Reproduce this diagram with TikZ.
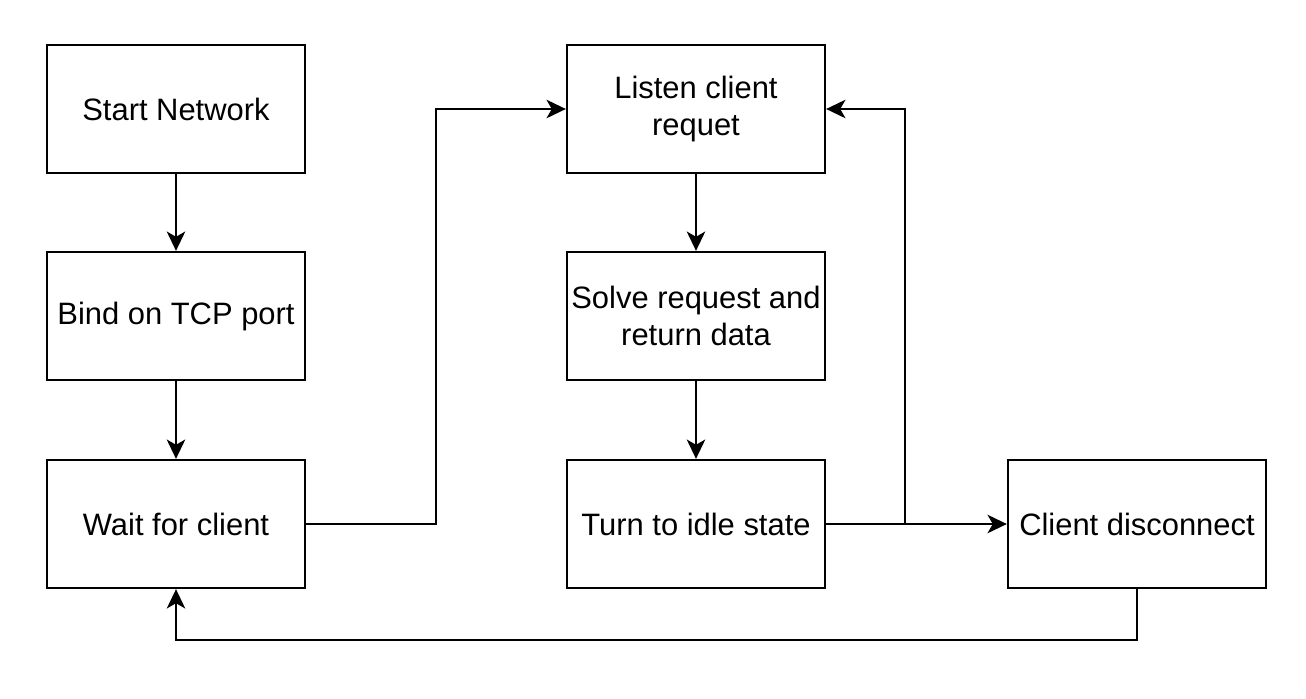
\documentclass[tikz,border=0pt]{standalone}
\usepackage{fontspec}
\setmainfont{Liberation Sans}
\usetikzlibrary{arrows.meta}
\begin{document}
\begin{tikzpicture}[x=0.02cm,y=-0.02cm,
  box/.style={draw=black,line width=1.3pt,fill=white,minimum width=258*0.02cm,minimum height=128*0.02cm,inner sep=0pt,align=center,font=\fontsize{17.6}{21.5}\selectfont},
  conn/.style={draw=black,line width=1.3pt,-{Stealth[length=11pt,width=10.5pt,inset=3pt]}}]
\path[fill=white] (0,0) rectangle (1306,698);
\node[box] (start) at (176,109) {Start Network};
\node[box] (bind) at (176,316) {Bind on TCP port};
\node[box] (wait) at (176,524) {Wait for client};
\node[box] (listen) at (696,109) {Listen client\\requet};
\node[box] (solve) at (696,316) {Solve request and\\return data};
\node[box] (idle) at (696,524) {Turn to idle state};
\node[box] (disc) at (1137,524) {Client disconnect};
\coordinate (j) at (905,524);
\draw[conn] (start) -- (bind);
\draw[conn] (bind) -- (wait);
\draw[conn] (wait.east) -- (436,524) -- (436,109) -- (listen.west);
\draw[conn] (listen) -- (solve);
\draw[conn] (solve) -- (idle);
\draw[conn] (idle.east) -- (disc.west);
\draw[conn] (j) -- (905,109) -- (listen.east);
\draw[conn] (disc.south) -- (1137,640) -- (176,640) -- (wait.south);
\end{tikzpicture}
\end{document}
